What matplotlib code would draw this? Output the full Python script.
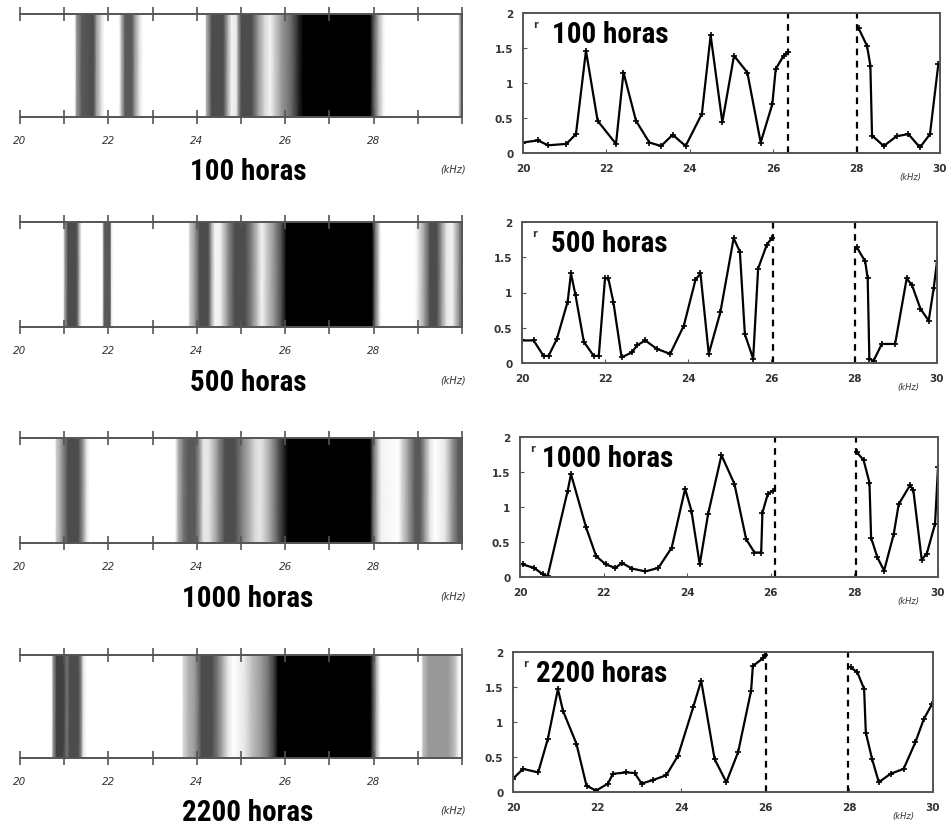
import numpy as np
import matplotlib
matplotlib.use("Agg")
import matplotlib.pyplot as plt
from matplotlib import font_manager

W, H = 946, 828

hours_labels = ["100 horas", "500 horas", "1000 horas", "2200 horas"]

# ---- left panels: grey-level bands (0 = black, 1 = white) vs frequency (kHz)
band_f_100 = [20.0, 21.24, 21.28, 21.40, 21.66, 21.73, 21.85, 21.92, 22.24, 22.30, 22.38, 22.53, 22.60, 22.71, 22.79,
              24.19, 24.22, 24.34, 24.60, 24.71, 24.79, 24.90, 24.94, 25.01, 25.24, 25.39, 25.54, 25.66, 25.77, 25.92,
              26.15, 26.30, 26.41, 27.92, 27.99, 28.11, 28.22, 28.27, 29.92, 29.96, 30.0]
band_g_100 = [1.0, 1.0, 0.6, 0.35, 0.3, 0.6, 0.9, 1.0, 1.0, 0.7, 0.35, 0.35, 0.6, 0.9, 1.0,
              1.0, 0.7, 0.3, 0.3, 0.7, 0.95, 0.9, 0.6, 0.3, 0.3, 0.6, 0.85, 0.95, 0.8, 0.6,
              0.4, 0.15, 0.0, 0.0, 0.3, 0.7, 0.95, 1.0, 1.0, 0.6, 0.6]

band_f_500 = [20.0, 20.98, 21.02, 21.09, 21.28, 21.36, 21.40, 21.86, 21.89, 21.92, 22.04, 22.07, 22.11,
              23.81, 23.85, 23.96, 24.07, 24.26, 24.34, 24.41, 24.52, 24.60, 24.71, 24.86, 25.09, 25.24, 25.39,
              25.47, 25.58, 25.77, 25.92, 26.03, 27.96, 28.03, 28.14, 28.18, 28.94, 29.01, 29.16, 29.28, 29.43,
              29.54, 29.65, 29.77, 29.84, 29.95, 30.0]
band_g_500 = [1.0, 1.0, 0.6, 0.3, 0.3, 0.8, 1.0, 1.0, 0.6, 0.35, 0.35, 0.9, 1.0,
              1.0, 0.8, 0.6, 0.3, 0.3, 0.7, 0.95, 0.95, 0.8, 0.55, 0.3, 0.3, 0.5, 0.8,
              0.95, 0.8, 0.55, 0.3, 0.0, 0.0, 0.4, 0.9, 1.0, 1.0, 0.9, 0.6, 0.3, 0.3,
              0.6, 0.9, 0.95, 0.8, 0.5, 0.4]

band_f_1000 = [20.0, 20.79, 20.83, 20.94, 21.09, 21.32, 21.43, 21.51, 21.58, 23.51, 23.58, 23.70, 23.81, 23.96,
               24.07, 24.15, 24.26, 24.34, 24.49, 24.64, 24.86, 25.02, 25.20, 25.32, 25.43, 25.54, 25.69, 25.84,
               26.0, 26.07, 27.92, 27.99, 28.11, 28.18, 28.56, 28.64, 28.79, 28.94, 29.05, 29.16, 29.28, 29.39,
               29.62, 29.77, 29.92, 30.0]
band_g_1000 = [1.0, 1.0, 0.8, 0.6, 0.3, 0.3, 0.6, 0.9, 1.0, 1.0, 0.7, 0.45, 0.35, 0.35,
               0.6, 0.9, 0.9, 0.8, 0.55, 0.3, 0.3, 0.5, 0.7, 0.85, 0.9, 0.8, 0.6, 0.35,
               0.1, 0.0, 0.0, 0.4, 0.8, 0.95, 1.0, 0.85, 0.6, 0.35, 0.35, 0.6, 0.9, 1.0,
               0.9, 0.6, 0.35, 0.35]

band_f_2200 = [20.0, 20.72, 20.75, 20.83, 20.98, 21.06, 21.13, 21.32, 21.40, 21.43, 21.51, 23.66, 23.70, 23.81,
               23.96, 24.11, 24.34, 24.49, 24.60, 24.71, 24.83, 25.09, 25.24, 25.47, 25.62, 25.77, 25.84, 27.92,
               27.99, 28.07, 28.14, 28.18, 29.09, 29.12, 29.24, 29.62, 29.69, 29.84, 29.92, 30.0]
band_g_2200 = [1.0, 1.0, 0.6, 0.25, 0.25, 0.45, 0.3, 0.3, 0.6, 0.9, 1.0, 1.0, 0.85, 0.7,
               0.6, 0.3, 0.3, 0.5, 0.7, 0.9, 1.0, 0.9, 0.75, 0.6, 0.45, 0.2, 0.0, 0.0,
               0.3, 0.7, 0.95, 1.0, 1.0, 0.75, 0.6, 0.6, 0.6, 0.75, 0.95, 1.0]

# ---- right panels: response vs frequency (two measured segments)
f100_a = [20.0, 20.36, 20.6, 21.04, 21.27, 21.51, 21.79, 22.23, 22.41, 22.71, 23.03, 23.31, 23.59, 23.9, 24.29,
          24.5, 24.78, 25.06, 25.38, 25.7, 25.98, 26.06, 26.25, 26.36]
v100_a = [0.15, 0.18, 0.11, 0.13, 0.27, 1.46, 0.46, 0.13, 1.15, 0.46, 0.15, 0.10, 0.26, 0.10, 0.56,
          1.68, 0.44, 1.39, 1.15, 0.15, 0.70, 1.20, 1.39, 1.44]
f100_b = [28.05, 28.25, 28.33, 28.37, 28.65, 28.96, 29.24, 29.52, 29.76, 29.96]
v100_b = [1.78, 1.53, 1.25, 0.25, 0.10, 0.24, 0.27, 0.08, 0.27, 1.27]

f500_a = [20.0, 20.28, 20.52, 20.64, 20.84, 21.1, 21.18, 21.29, 21.49, 21.73, 21.85, 22.0, 22.08, 22.2, 22.4,
          22.65, 22.77, 22.97, 23.25, 23.57, 23.9, 24.18, 24.3, 24.5, 24.78, 25.1, 25.25, 25.37, 25.57, 25.69,
          25.9, 26.02]
v500_a = [0.32, 0.32, 0.10, 0.10, 0.34, 0.87, 1.27, 0.96, 0.30, 0.10, 0.10, 1.20, 1.20, 0.87, 0.08,
          0.15, 0.25, 0.32, 0.20, 0.13, 0.53, 1.18, 1.27, 0.13, 0.72, 1.77, 1.58, 0.41, 0.06, 1.34,
          1.68, 1.77]
f500_b = [28.07, 28.27, 28.33, 28.37, 28.47, 28.67, 28.99, 29.27, 29.4, 29.6, 29.8, 29.92, 30.0]
v500_b = [1.64, 1.44, 1.20, 0.06, 0.03, 0.27, 0.27, 1.20, 1.10, 0.77, 0.60, 1.06, 1.44]

f1000_a = [20.06, 20.34, 20.54, 20.66, 21.14, 21.22, 21.58, 21.82, 22.05, 22.28, 22.44, 22.68, 23.0, 23.31,
           23.63, 23.95, 24.1, 24.3, 24.5, 24.82, 25.13, 25.41, 25.61, 25.77, 25.8, 25.93, 26.05]
v1000_a = [0.18, 0.13, 0.04, 0.01, 1.23, 1.47, 0.71, 0.30, 0.18, 0.13, 0.20, 0.12, 0.08, 0.13,
           0.42, 1.26, 0.95, 0.18, 0.90, 1.74, 1.33, 0.54, 0.35, 0.35, 0.92, 1.19, 1.23]
f1000_b = [28.06, 28.22, 28.36, 28.4, 28.55, 28.71, 28.94, 29.06, 29.33, 29.41, 29.61, 29.73, 29.93, 30.0]
v1000_b = [1.78, 1.67, 1.35, 0.56, 0.28, 0.09, 0.61, 1.04, 1.31, 1.24, 0.25, 0.33, 0.76, 1.57]

f2200_a = [20.0, 20.24, 20.6, 20.83, 21.07, 21.19, 21.51, 21.75, 21.98, 22.26, 22.38, 22.7, 22.9, 23.06,
           23.33, 23.65, 23.93, 24.29, 24.48, 24.8, 25.08, 25.36, 25.67, 25.71, 25.95, 26.0]
v2200_a = [0.19, 0.33, 0.28, 0.76, 1.47, 1.16, 0.69, 0.09, 0.02, 0.12, 0.26, 0.28, 0.27, 0.12,
           0.17, 0.24, 0.52, 1.21, 1.59, 0.47, 0.14, 0.57, 1.45, 1.80, 1.91, 1.96]
f2200_b = [28.04, 28.2, 28.36, 28.4, 28.55, 28.71, 28.99, 29.3, 29.58, 29.78, 29.98]
v2200_b = [1.78, 1.71, 1.47, 0.85, 0.47, 0.14, 0.26, 0.33, 0.71, 1.04, 1.26]

dashed_pos = [(26.35, 28.0), (26.06, 28.02), (26.09, 28.03), (26.02, 27.98)]

bands = [(band_f_100, band_g_100), (band_f_500, band_g_500),
         (band_f_1000, band_g_1000), (band_f_2200, band_g_2200)]
curves = [(f100_a, v100_a, f100_b, v100_b), (f500_a, v500_a, f500_b, v500_b),
          (f1000_a, v1000_a, f1000_b, v1000_b), (f2200_a, v2200_a, f2200_b, v2200_b)]

# pixel boxes (left, top, right, bottom)
left_boxes = [(20, 15, 462, 118), (20, 223, 462, 328), (20, 439, 462, 544), (20, 656, 462, 759)]
right_boxes = [(523, 14, 940, 154), (522, 223, 937, 364), (520, 438, 938, 578), (513, 653, 933, 793)]


def frac(box):
    l, t, r, b = box
    return [l / W, 1 - b / H, (r - l) / W, (b - t) / H]


# pick a narrow bold family if one is installed
available = {f.name for f in font_manager.fontManager.ttflist}
narrow_candidates = ["Roboto Condensed", "Liberation Sans Narrow", "DejaVu Sans Condensed",
                     "Open Sans Condensed", "Noto Sans Display"]
narrow = [n for n in narrow_candidates if n in available]
if narrow:
    title_font = dict(family=[narrow[0], "DejaVu Sans"], weight="bold", size=21, stretch="condensed")
else:
    title_font = dict(family=["DejaVu Sans"], weight="bold", size=15, stretch="condensed")

fig = plt.figure(figsize=(W / 100, H / 100), dpi=100)
fig.patch.set_facecolor("white")

frame_col = "#555555"

for i in range(4):
    # ---------- left band panel
    ax = fig.add_axes(frac(left_boxes[i]))
    bf, bg = bands[i]
    X = np.vstack([bf, bf])
    Y = np.vstack([np.zeros(len(bf)), np.ones(len(bf))])
    C = np.vstack([bg, bg])
    ax.pcolormesh(X, Y, C, shading="gouraud", cmap="gray", vmin=0, vmax=1)
    ax.set_xlim(20, 30)
    ax.set_ylim(0, 1)
    ax.set_yticks([])
    ax.spines["left"].set_visible(False)
    for s in ["top", "bottom", "right"]:
        ax.spines[s].set_color(frame_col)
        ax.spines[s].set_linewidth(1.4)
    ax.set_xticks(np.arange(20, 31, 1))
    ax.set_xticklabels(["20", "", "22", "", "24", "", "26", "", "28", "", ""],
                       fontsize=7.5, style="italic", color="#333333")
    ax.tick_params(axis="x", which="both", direction="inout", length=10, width=1.2,
                   color=frame_col, top=True, pad=8)
    ax.text(0.516, -0.52, hours_labels[i], transform=ax.transAxes, ha="center", va="center",
            **title_font)
    ax.text(0.98, -0.5, "(kHz)", transform=ax.transAxes, ha="center", va="center",
            fontsize=7, style="italic", color="#333333")

    # ---------- right response panel
    ax2 = fig.add_axes(frac(right_boxes[i]))
    fa, va, fb, vb = curves[i]
    for fx, vy in ((fa, va), (fb, vb)):
        ax2.plot(fx, vy, color="black", lw=1.6, marker="+", ms=4, mew=1.2)
    for d in dashed_pos[i]:
        ax2.axvline(d, color="black", lw=1.6, ls=(0, (3, 2.5)))
    ax2.set_xlim(20, 30)
    ax2.set_ylim(0, 2)
    ax2.set_xticks([20, 22, 24, 26, 28, 30])
    ax2.set_xticklabels(["20", "22", "24", "26", "28", "30"], fontsize=7.5, color="#333333",
                        weight="bold")
    ax2.set_yticks([0, 0.5, 1, 1.5, 2])
    ax2.set_yticklabels(["0", "0.5", "1", "1.5", "2"], fontsize=7.5, color="#333333", weight="bold")
    ax2.tick_params(direction="in", length=3, color=frame_col, pad=7)
    for s in ax2.spines.values():
        s.set_color(frame_col)
        s.set_linewidth(1.4)
    ax2.text(0.21, 0.85, hours_labels[i], transform=ax2.transAxes, ha="center", va="center",
             **title_font)
    ax2.text(0.03, 0.92, "r", transform=ax2.transAxes, ha="center", va="center",
             fontsize=7, weight="bold", color="#333333")
    ax2.text(0.93, -0.17, "(kHz)", transform=ax2.transAxes, ha="center", va="center",
             fontsize=6, style="italic", color="#333333")

fig.savefig("out.png", dpi=100, facecolor="white")
